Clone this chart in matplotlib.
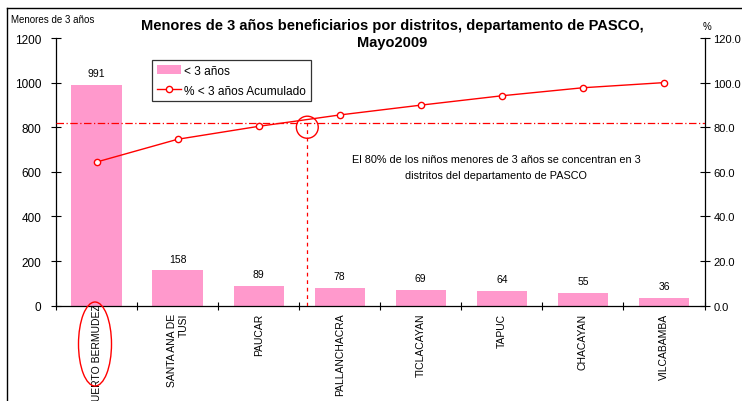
import matplotlib
matplotlib.use("Agg")
import matplotlib.pyplot as plt
from matplotlib.patches import Ellipse
from matplotlib.lines import Line2D
from matplotlib.transforms import ScaledTranslation
import numpy as np

plt.rcParams['font.family'] = ['Liberation Sans', 'DejaVu Sans']

distritos = ["PUERTO BERMUDEZ", "SANTA ANA DE\nTUSI", "PAUCAR", "PALLANCHACRA",
             "TICLACAYAN", "TAPUC", "CHACAYAN", "VILCABAMBA"]
menores = [991, 158, 89, 78, 69, 64, 55, 36]
acumulado = [64.4, 74.6, 80.4, 85.5, 89.9, 94.1, 97.7, 100.0]
left_ticks = [0, 200, 400, 600, 800, 1000, 1200]
right_ticks = [0, 20, 40, 60, 80, 100, 120]
umbral = 81.8
corte_x = 2.6

title = "Menores de 3 años beneficiarios por distritos, departamento de PASCO,\nMayo2009"
nota = "El 80% de los niños menores de 3 años se concentran en 3\ndistritos del departamento de PASCO"

fig = plt.figure(figsize=(7.42, 4.02), dpi=100)
ax = fig.add_axes([56/742, 95.3/402, (704.5-56)/742, 267.7/402])
ax2 = ax.twinx()

x = np.arange(len(distritos))
bars = ax.bar(x, menores, width=0.62, color='#FF99CC', zorder=2, label='< 3 años')
for xi, v in zip(x, menores):
    ax.annotate(str(v), (xi, v), xytext=(0, 5), textcoords='offset points',
                ha='center', va='bottom', fontsize=7.5)

ax.set_xlim(-0.5, len(distritos) - 0.5)
ax.set_ylim(0, 1200)
ax.set_yticks(left_ticks)
ax.set_yticklabels([str(t) for t in left_ticks])
ax.set_xticks(x)
ax.set_xticklabels(distritos, rotation=90, fontsize=7.5, va='top', ha='center',
                   multialignment='right')
ax.set_xticks(np.arange(len(distritos) + 1) - 0.5, minor=True)
ax.tick_params(axis='x', which='major', length=0, pad=5)
ax.tick_params(axis='x', which='minor', length=6, direction='inout', width=0.8)
ax.tick_params(axis='y', length=7, direction='inout', width=0.8, labelsize=8.5, pad=7)
ax.spines['top'].set_visible(False)
ax.spines['right'].set_visible(False)
for s in ['left', 'bottom']:
    ax.spines[s].set_linewidth(0.9)
# first label sits a little higher in the reference
lbl0 = ax.xaxis.get_major_ticks()[0].label1
lbl0.set_transform(lbl0.get_transform() + ScaledTranslation(0, 7/72, fig.dpi_scale_trans))

ax2.set_ylim(0, 120)
ax2.set_yticks(right_ticks)
ax2.set_yticklabels([f"{t:.1f}" for t in right_ticks])
ax2.tick_params(axis='y', length=7, direction='inout', width=0.8, labelsize=8, pad=3)
for s in ['top', 'left', 'bottom']:
    ax2.spines[s].set_visible(False)
ax2.spines['right'].set_linewidth(0.9)

ln, = ax2.plot(x, acumulado, color='red', lw=1, marker='o', markersize=4.5,
               markerfacecolor='white', markeredgecolor='red', markeredgewidth=1,
               zorder=3, label='% < 3 años Acumulado')
ax2.axhline(umbral, color='red', lw=0.9, ls=(0, (6, 2, 1, 2)))
ax2.plot([corte_x, corte_x], [0, umbral], color='red', lw=0.9, ls=(0, (3, 3)))
ax2.add_patch(Ellipse((corte_x, 80), 0.27, 9.9, fill=False, edgecolor='red', lw=1))

ax2.text(4.93, 62.2, nota, ha='center', va='center', fontsize=7.8,
         linespacing=1.65)

leg = ax2.legend(handles=[bars, ln], loc='upper left',
                 bbox_to_anchor=(152/742, 1 - 61/402), bbox_transform=fig.transFigure,
                 fontsize=8.6, frameon=True, fancybox=False, borderaxespad=0,
                 handlelength=2.0, borderpad=0.4, labelspacing=0.65, handletextpad=0.3)
leg.get_frame().set_edgecolor('black')
leg.get_frame().set_linewidth(0.9)

fig.text(392/742, 1 - 19/402, title, ha='center', va='top', fontsize=10.5,
         fontweight='bold', linespacing=1.25)
fig.text(11/742, 1 - 20/402, "Menores de 3 años", ha='left', va='center', fontsize=7)
fig.text(703/742, 1 - 27/402, "%", ha='left', va='center', fontsize=7)

# ellipse around first label
fig.add_artist(Ellipse((95/742, 1 - 345/402), 33/742, 84/402, fill=False,
                       edgecolor='red', lw=1, transform=fig.transFigure))
# chart border (partially visible)
fig.add_artist(Line2D([7/742, 7/742], [0, 1 - 9/402], color='black', lw=1,
                      transform=fig.transFigure))
fig.add_artist(Line2D([7/742, 1], [1 - 9/402, 1 - 9/402], color='black', lw=1,
                      transform=fig.transFigure))

fig.savefig("out.png", dpi=100)
